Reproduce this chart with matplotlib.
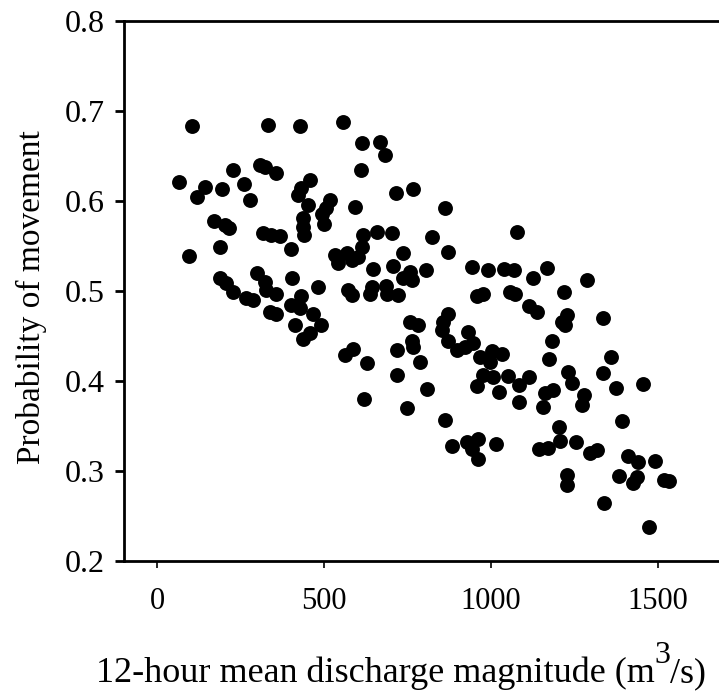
import numpy as np
import matplotlib.pyplot as plt

# Discharge (m3/s) and probability of movement
discharge = np.array([
    104, 331, 427, 307, 322, 227, 356, 64, 142, 259,
    193, 119, 277, 457, 432, 422, 452, 517, 505, 493,
    499, 437, 437, 440, 169, 202, 215, 317, 342, 367,
    187, 402, 94, 532, 542, 187, 205, 299, 322, 404,
    482, 227, 267, 286, 327, 357, 432, 337, 357, 402,
    427, 467, 492, 412, 457, 437, 556, 614, 668, 682,
    611, 716, 767, 862, 593, 1077, 659, 704, 617, 822,
    612, 872, 735, 567, 602, 582, 647, 705, 757, 737,
    762, 805, 942, 992, 1039, 1069, 572, 582, 642, 637,
    685, 687, 722, 957, 977, 1057, 1072, 757, 782, 872,
    857, 852, 932, 872, 897, 922, 947, 562, 587, 717,
    762, 767, 629, 787, 719, 967, 1002, 1032, 997, 977,
    1005, 1052, 1084, 959, 1024, 1084, 807, 620, 747, 862,
    882, 927, 962, 942, 962, 1014, 1169, 1127, 1289, 1218,
    1115, 1139, 1227, 1212, 1222, 1337, 1183, 1175, 1360, 1115,
    1230, 1242, 1337, 1375, 1457, 1162, 1187, 1157, 1279, 1272,
    1393, 1203, 1143, 1172, 1207, 1254, 1297, 1317, 1412, 1441,
    1492, 1385, 1437, 1427, 1520, 1535, 1227, 1229, 1339, 1474,
])
prob = np.array([
    0.683, 0.684, 0.683, 0.640, 0.638, 0.634, 0.631, 0.621, 0.616, 0.619,
    0.613, 0.604, 0.601, 0.623, 0.615, 0.607, 0.596, 0.601, 0.592, 0.586,
    0.575, 0.581, 0.571, 0.562, 0.578, 0.573, 0.570, 0.565, 0.562, 0.561,
    0.549, 0.547, 0.539, 0.540, 0.531, 0.514, 0.509, 0.520, 0.510, 0.515,
    0.504, 0.499, 0.492, 0.490, 0.501, 0.497, 0.494, 0.477, 0.475, 0.484,
    0.481, 0.475, 0.462, 0.462, 0.453, 0.447, 0.688, 0.665, 0.666, 0.651,
    0.634, 0.609, 0.613, 0.592, 0.593, 0.566, 0.566, 0.564, 0.562, 0.560,
    0.549, 0.543, 0.542, 0.542, 0.538, 0.534, 0.524, 0.528, 0.521, 0.514,
    0.512, 0.523, 0.527, 0.523, 0.525, 0.523, 0.501, 0.496, 0.505, 0.497,
    0.506, 0.497, 0.496, 0.494, 0.497, 0.499, 0.497, 0.466, 0.462, 0.475,
    0.466, 0.457, 0.455, 0.444, 0.434, 0.438, 0.442, 0.429, 0.436, 0.435,
    0.444, 0.438, 0.420, 0.421, 0.407, 0.427, 0.433, 0.430, 0.421, 0.407,
    0.405, 0.406, 0.396, 0.394, 0.388, 0.377, 0.391, 0.380, 0.370, 0.357,
    0.328, 0.332, 0.336, 0.325, 0.313, 0.330, 0.526, 0.514, 0.512, 0.499,
    0.483, 0.477, 0.473, 0.466, 0.462, 0.470, 0.444, 0.424, 0.427, 0.404,
    0.410, 0.398, 0.409, 0.392, 0.397, 0.387, 0.390, 0.371, 0.384, 0.373,
    0.356, 0.349, 0.325, 0.326, 0.333, 0.332, 0.320, 0.323, 0.317, 0.310,
    0.311, 0.295, 0.293, 0.287, 0.290, 0.289, 0.296, 0.285, 0.264, 0.238,
])

x_ticks = [0, 500, 1000, 1500]
y_ticks = [0.2, 0.3, 0.4, 0.5, 0.6, 0.7, 0.8]

W, H = 719, 696
plt.rcParams['font.family'] = 'Liberation Serif'

fig = plt.figure(figsize=(W / 100, H / 100), dpi=100)
# axes runs past the right edge of the picture, like the original crop
ax = fig.add_axes([124 / W, 135 / H, 600.5 / W, 540 / H])

ax.scatter(discharge, prob, s=115, c='black', linewidths=0, zorder=3)

ax.set_xlim(-100, 1700)
ax.set_ylim(0.2, 0.8)
ax.set_xticks(x_ticks)
ax.set_yticks(y_ticks)
ax.set_yticklabels([f'{v:.1f}' for v in y_ticks])

ax.spines['right'].set_visible(False)
for side in ['left', 'top', 'bottom']:
    ax.spines[side].set_linewidth(2)

ax.tick_params(axis='y', direction='out', length=6.5, width=2, pad=7, labelsize=23)
ax.tick_params(axis='x', direction='out', length=5, width=1.2, pad=14, labelsize=22)

# y label
fig.text(31 / W, 1 - 297 / H, 'Probability of movement', fontsize=24,
         rotation=90, ha='center', va='center')

# x label built from pieces so the superscript 3 can be large
base_y = 1 - 682 / H
t1 = fig.text(0, base_y, '12-hour mean discharge magnitude (m', fontsize=26, va='baseline')
t2 = fig.text(0, base_y + 19 / H, '3', fontsize=23, va='baseline')
t3 = fig.text(0, base_y, '/s)', fontsize=26, va='baseline')
fig.canvas.draw()
r = fig.canvas.get_renderer()
w1 = t1.get_window_extent(r).width
w2 = t2.get_window_extent(r).width
w3 = t3.get_window_extent(r).width
x0 = 401 - (w1 + w2 + w3) / 2
t1.set_x(x0 / W)
t2.set_x((x0 + w1) / W)
t3.set_x((x0 + w1 + w2) / W)

fig.savefig('out.png', dpi=100)
